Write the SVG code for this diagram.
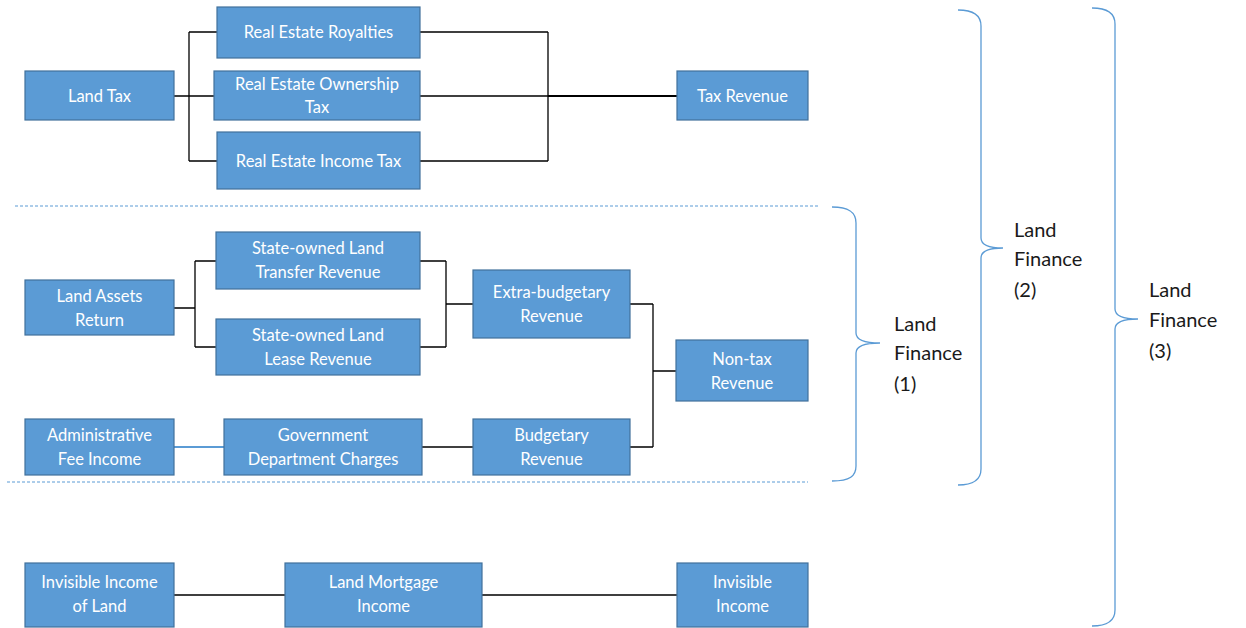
<svg xmlns="http://www.w3.org/2000/svg" width="1246" height="628" viewBox="0 0 1246 628">
<style>
.box{fill:#5B9BD5;stroke:#41719C;stroke-width:1.2}
.t{font-family:Lato,"Liberation Sans",sans-serif;font-size:16.5px;fill:#ffffff;text-anchor:middle}
.lbl{font-family:Lato,"Liberation Sans",sans-serif;font-size:20px;fill:#1a1a1a}
.c{fill:none;stroke:#000;stroke-width:1.3}
.c2{fill:none;stroke:#000;stroke-width:2}
.lc{fill:none;stroke:#5B9BD5;stroke-width:2}
.dash{fill:none;stroke:#5B9BD5;stroke-width:1;stroke-dasharray:3 2}
.brace{fill:none;stroke:#5B9BD5;stroke-width:1.3}
</style>
<rect width="1246" height="628" fill="#ffffff"/>
<g id="separators">
<line class="dash" x1="15" y1="206" x2="818" y2="206"/>
<line class="dash" x1="7" y1="482" x2="808" y2="482"/>
</g>
<g id="connectors">
<path class="c" d="M174,96 H189 M189,32 V161 M189,32 H217 M189,96 H214 M189,161 H217"/>
<path class="c" d="M420,32 H548 M420,96 H548 M420,161 H548 M548,32 V161"/>
<path class="c2" d="M548,96 H677"/>
<path class="c" d="M174,308 H195 M195,261 V347 M195,261 H216 M195,347 H216"/>
<path class="c" d="M420,261 H446 M420,347 H446 M446,261 V347 M446,304 H473"/>
<path class="c" d="M630,304 H653 M630,447 H653 M653,304 V447 M653,371 H676"/>
<path class="lc" d="M174,447 H224"/>
<path class="c" d="M422,447 H473"/>
<path class="c" d="M174,595 H285 M482,595 H677"/>
</g>
<g id="braces">
<path class="brace" d="M832,207 C850,207 856,213 856,223 L856,333 C856,339 862,343 880,343 C862,343 856,347 856,353 L856,466 C856,476 850,481 832,481"/>
<path class="brace" d="M958,10 C975,10 981,16 981,26 L981,238 C981,244 987,248 1003,248 C987,248 981,252 981,258 L981,469 C981,479 975,485 958,485"/>
<path class="brace" d="M1092,8 C1109,8 1115,14 1115,24 L1115,309 C1115,315 1121,319 1138,319 C1121,319 1115,323 1115,329 L1115,610 C1115,620 1109,626 1092,626"/>
</g>
<g id="label1"><text class="lbl" x="894"><tspan x="894" y="331">Land</tspan><tspan x="894" y="360">Finance</tspan><tspan x="894" y="391">(1)</tspan></text></g>
<g id="label2"><text class="lbl" x="1014"><tspan x="1014" y="237">Land</tspan><tspan x="1014" y="266">Finance</tspan><tspan x="1014" y="297">(2)</tspan></text></g>
<g id="label3"><text class="lbl" x="1149"><tspan x="1149" y="297">Land</tspan><tspan x="1149" y="327">Finance</tspan><tspan x="1149" y="358">(3)</tspan></text></g>

<g id="n-land-tax"><rect class="box" x="25" y="71" width="149" height="49"/><text class="t" x="99.5" y="102">Land Tax</text></g>
<g id="n-royalties"><rect class="box" x="217" y="7" width="203" height="51"/><text class="t" x="318.5" y="38">Real Estate Royalties</text></g>
<g id="n-ownership"><rect class="box" x="214" y="71" width="206" height="49"/><text class="t"><tspan x="317" y="90">Real Estate Ownership</tspan><tspan x="317" y="113">Tax</tspan></text></g>
<g id="n-income-tax"><rect class="box" x="217" y="132" width="203" height="57"/><text class="t" x="318.5" y="167">Real Estate Income Tax</text></g>
<g id="n-tax-revenue"><rect class="box" x="677" y="71" width="131" height="49"/><text class="t" x="742.5" y="102">Tax Revenue</text></g>

<g id="n-land-assets"><rect class="box" x="25" y="280" width="149" height="55"/><text class="t"><tspan x="99.5" y="302">Land Assets</tspan><tspan x="99.5" y="326">Return</tspan></text></g>
<g id="n-transfer"><rect class="box" x="216" y="232" width="204" height="57"/><text class="t"><tspan x="318" y="254">State-owned Land</tspan><tspan x="318" y="278">Transfer Revenue</tspan></text></g>
<g id="n-lease"><rect class="box" x="216" y="319" width="204" height="56"/><text class="t"><tspan x="318" y="341">State-owned Land</tspan><tspan x="318" y="365">Lease Revenue</tspan></text></g>
<g id="n-admin"><rect class="box" x="25" y="419" width="149" height="56"/><text class="t"><tspan x="99.5" y="441">Administrative</tspan><tspan x="99.5" y="465">Fee Income</tspan></text></g>
<g id="n-gov"><rect class="box" x="224" y="419" width="198" height="56"/><text class="t"><tspan x="323" y="441">Government</tspan><tspan x="323" y="465">Department Charges</tspan></text></g>
<g id="n-extra"><rect class="box" x="473" y="270" width="157" height="68"/><text class="t"><tspan x="551.5" y="298">Extra-budgetary</tspan><tspan x="551.5" y="322">Revenue</tspan></text></g>
<g id="n-nontax"><rect class="box" x="676" y="340" width="132" height="61"/><text class="t"><tspan x="742" y="365">Non-tax</tspan><tspan x="742" y="389">Revenue</tspan></text></g>
<g id="n-budgetary"><rect class="box" x="473" y="419" width="157" height="56"/><text class="t"><tspan x="551.5" y="441">Budgetary</tspan><tspan x="551.5" y="465">Revenue</tspan></text></g>

<g id="n-invisible-land"><rect class="box" x="25" y="563" width="149" height="64"/><text class="t"><tspan x="99.5" y="588">Invisible Income</tspan><tspan x="99.5" y="612">of Land</tspan></text></g>
<g id="n-mortgage"><rect class="box" x="285" y="563" width="197" height="64"/><text class="t"><tspan x="383.5" y="588">Land Mortgage</tspan><tspan x="383.5" y="612">Income</tspan></text></g>
<g id="n-invisible"><rect class="box" x="677" y="563" width="131" height="64"/><text class="t"><tspan x="742.5" y="588">Invisible</tspan><tspan x="742.5" y="612">Income</tspan></text></g>
</svg>
